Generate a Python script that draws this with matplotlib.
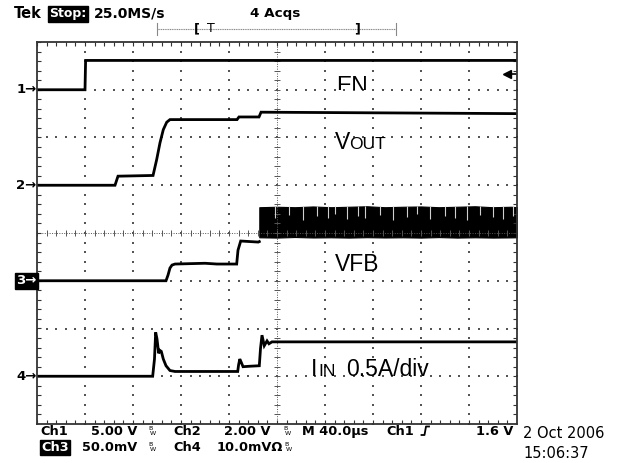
import matplotlib
matplotlib.use("Agg")
import matplotlib.pyplot as plt
import numpy as np
from matplotlib.lines import Line2D
from matplotlib.patches import Rectangle

W, H, DPI = 619, 463, 100

# horizontal: 40 us/div, 10 div; vertical: 8 div
T_DIV = 40.0

# Ch1  EN      5 V/div, ground marker 3 div above centre
ch1_t = [0, 40, 40.5, 400]
ch1_v = [0.0, 0.0, 3.07, 3.07]
CH1_SCALE, CH1_POS = 5.0, 3.0
CH1_TRIG = 1.6

# Ch2  VOUT    2 V/div, ground 1 div above centre
ch2_t = [0, 65, 67.5, 96.7, 99.75, 102.5, 105.25, 108.1, 110.8, 166.7, 168.3, 185, 186.7, 400]
ch2_v = [0.0, 0.0, 0.38, 0.41, 1.08, 1.78, 2.33, 2.64, 2.75, 2.75, 2.86, 2.86, 3.06, 3.00]
CH2_SCALE, CH2_POS = 2.0, 1.0

# Ch3  VFB     50 mV/div, ground 1 div below centre
ch3_t = [0, 107.5, 109.2, 110.8, 112.5, 115, 140, 150, 166.4, 167.5, 169.75, 184.4, 185.25]
ch3_v = [0, 0, 6.0, 13.3, 16.4, 17.5, 18.3, 17.5, 17.5, 32.0, 41.6, 40.5, 41.0]
# switching ripple envelope once the regulator runs (mV)
rip_t = [185.25, 200, 215, 230, 245, 260, 275, 290, 305, 320, 335, 350, 365, 380, 395, 400]
rip_hi = [77, 77.5, 77, 77.8, 77, 77.5, 78, 77, 77.5, 77.8, 77, 77.5, 78, 77, 77.5, 77]
rip_lo = [45.5, 45.2, 45.8, 45.3, 45.5, 45.2, 45.6, 45.3, 45.5, 45.2, 45.7, 45.2, 45.5, 45.2, 45.4, 45.5]
notch_t = [198.3, 210.3, 221.4, 233.1, 242.8, 248.3, 258.1, 267.8, 273.3, 285.8, 296.9,
           308.1, 316.4, 327.5, 340, 348.3, 358.1, 369.2, 380.3, 388.6, 396.9]
notch_v = [66, 69, 64, 68, 66, 70, 65, 68, 66, 69, 64, 67, 70, 65, 68, 66, 64, 69, 67, 65, 68]
CH3_SCALE, CH3_POS = 50.0, -1.0

# Ch4  IIN     0.5 A/div, ground 3 div below centre
ch4_t = [0, 96.4, 97.9, 98.9, 100, 101.4, 102.5, 103.6, 105.25, 107.5, 110.8, 115, 167.25,
         168, 169, 170.4, 171.7, 177.5, 185.25, 186.25, 187.5, 189.4, 191.7, 193.3, 195.8, 400]
ch4_a = [0.0, 0.0, 0.18, 0.46, 0.39, 0.24, 0.27, 0.26, 0.18, 0.11, 0.06, 0.05, 0.05,
         0.12, 0.18, 0.14, 0.10, 0.105, 0.11, 0.29, 0.43, 0.32, 0.37, 0.34, 0.36, 0.36]
CH4_SCALE, CH4_POS = 0.5, -3.0


def to_div(vals, scale, pos):
    return np.asarray(vals, dtype=float) / scale + pos


def px(x, y):
    """pixel position -> figure fraction"""
    return x / W, 1 - y / H


fig = plt.figure(figsize=(W / DPI, H / DPI), dpi=DPI)
fig.patch.set_facecolor("white")
ax = fig.add_axes([37 / W, 1 - 424 / H, 480 / W, 382 / H])
ax.set_xlim(0, 10 * T_DIV)
ax.set_ylim(-4, 4)
ax.set_xticks([])
ax.set_yticks([])
for s in ax.spines.values():
    s.set_color("#333333")
    s.set_linewidth(1.3)

# graticule dots
GRID = "#555555"
minor_y = np.arange(-4, 4.01, 0.2)
minor_x = np.arange(0, 400.1, T_DIV * 0.2)
for k in range(1, 10):
    if k == 5:
        continue
    ax.scatter(np.full_like(minor_y, k * T_DIV), minor_y, s=1.5, marker="s", c=GRID, lw=0)
for k in range(-3, 4):
    if k == 0:
        continue
    ax.scatter(minor_x, np.full_like(minor_x, k), s=1.5, marker="s", c=GRID, lw=0)

# centre cross with minor ticks
ax.axhline(0, color=GRID, lw=0.7, ls=(0, (1, 1.5)))
ax.axvline(200, color=GRID, lw=0.7, ls=(0, (1, 1.5)))
ax.vlines(minor_x, -0.06, 0.06, color=GRID, lw=0.7)
ax.hlines(minor_y, 200 - 2.4, 200 + 2.4, color=GRID, lw=0.7)

# border ticks
ax.vlines(minor_x, 4 - 0.09, 4, color="#333333", lw=0.8)
ax.vlines(minor_x, -4, -4 + 0.09, color="#333333", lw=0.8)
ax.hlines(minor_y, 0, 3.2, color="#333333", lw=0.8)
ax.hlines(minor_y, 400 - 3.2, 400, color="#333333", lw=0.8)

# traces
TR = dict(color="black", lw=2.0, solid_joinstyle="miter")
ax.plot(ch1_t, to_div(ch1_v, CH1_SCALE, CH1_POS), **TR)
ax.plot(ch2_t, to_div(ch2_v, CH2_SCALE, CH2_POS), **TR)
ax.plot(ch3_t, to_div(ch3_v, CH3_SCALE, CH3_POS), **TR)
ax.fill_between(rip_t, to_div(rip_lo, CH3_SCALE, CH3_POS), to_div(rip_hi, CH3_SCALE, CH3_POS),
                color="black", lw=0.8)
ax.vlines(notch_t, to_div(notch_v, CH3_SCALE, CH3_POS), to_div(rip_hi, CH3_SCALE, CH3_POS).max(),
          color="#d0d0d0", lw=0.8)
ax.plot(ch4_t, to_div(ch4_a, CH4_SCALE, CH4_POS), **TR)

# trigger level marker (Ch1)
trig_y = CH1_TRIG / CH1_SCALE + CH1_POS
ax.plot([392], [trig_y], marker="<", ms=6, color="black", clip_on=False)
ax.plot([392, 399], [trig_y, trig_y], color="black", lw=1.2)

# trace labels
LBL = "Liberation Sans"
en = ax.text(6.24 * T_DIV, 2.93, "EN", family=LBL, fontsize=16.5, va="baseline", clip_on=True)
en.set_clip_path(Rectangle((0, 2.985), 400, 1.0, transform=ax.transData))
ax.text(6.21 * T_DIV, 1.753, "V", family=LBL, fontsize=16.5, va="baseline")
ax.text(6.50 * T_DIV, 1.753, "OUT", family=LBL, fontsize=12.5, va="baseline")
ax.text(6.21 * T_DIV, -0.80, "VFB", family=LBL, fontsize=16.5, va="baseline")
ax.text(5.71 * T_DIV, -3.0, "I", family=LBL, fontsize=16.5, va="baseline")
ax.text(5.86 * T_DIV, -3.0, "IN", family=LBL, fontsize=12.5, va="baseline")
ax.text(6.45 * T_DIV, -3.0, "0.5A/div", family=LBL, fontsize=16.5, va="baseline")

# channel ground markers
SC = "DejaVu Sans"
for n, pos in [(1, CH1_POS), (2, CH2_POS), (3, CH3_POS), (4, CH4_POS)]:
    y = 233 - pos * 47.75
    kw = dict(family=SC, fontsize=9.5, ha="right", va="center", weight="bold")
    if n == 3:
        fig.text(*px(36.5, y), "3\u2192", color="white",
                 bbox=dict(boxstyle="square,pad=0.1", fc="black", ec="black"), **kw)
    else:
        fig.text(*px(36.5, y), f"{n}\u2192", color="black", **kw)

# header
HB = dict(family=SC, va="center", weight="bold")
fig.text(*px(14, 13.5), "Tek", fontsize=10.5, **HB)
fig.text(*px(49, 13.5), "Stop:", fontsize=9, color="white",
         bbox=dict(boxstyle="square,pad=0.12", fc="black", ec="black"), **HB)
fig.text(*px(94, 13.5), "25.0MS/s", fontsize=10, **HB)
fig.text(*px(250, 13.5), "4 Acqs", fontsize=9.7, **HB)
fig.add_artist(Line2D([156.7 / W, 395.7 / W], [1 - 29 / H] * 2, color="#888888", lw=0.8,
                      ls=(0, (1, 0.6))))
for xx in (156.7, 395.7):
    fig.add_artist(Line2D([xx / W] * 2, [1 - 23 / H, 1 - 35 / H], color="#888888", lw=0.8))
fig.text(*px(197, 29), "[", family=SC, fontsize=9, va="center", ha="center", weight="bold")
fig.text(*px(211, 28), "T", family=SC, fontsize=9, va="center", ha="center")
fig.text(*px(357, 29), "]", family=SC, fontsize=9, va="center", ha="center", weight="bold")

# footer readouts
row1, row2 = 431.5, 447.5
FB = dict(family=SC, fontsize=9.3, va="center", weight="bold")
fig.text(*px(40, row1), "Ch1", **FB)
fig.text(*px(137, row1), "5.00 V", ha="right", **FB)
fig.text(*px(173, row1), "Ch2", **FB)
fig.text(*px(270, row1), "2.00 V", ha="right", **FB)
fig.text(*px(302, row1), "M 40.0\u00b5s", **FB)
fig.text(*px(386, row1), "Ch1", **FB)
fig.text(*px(513, row1), "1.6 V", ha="right", **FB)
fig.add_artist(Line2D(np.array([421.5, 424.5, 426, 429]) / W,
                      1 - np.array([435, 435, 426.5, 426.5]) / H, color="black", lw=1.3))
fig.text(*px(41, row2), "Ch3", color="white",
         bbox=dict(boxstyle="square,pad=0.1", fc="black", ec="black"), **FB)
fig.text(*px(137, row2), "50.0mV", ha="right", **FB)
fig.text(*px(173, row2), "Ch4", **FB)
fig.text(*px(283, row2), "10.0mV\u03a9", ha="right", **FB)
for bx, by in [(148, row1), (283, row1), (148, row2), (284, row2)]:
    fig.text(*px(bx, by - 2.5), "B", family=SC, fontsize=4.5, va="center")
    fig.text(*px(bx + 2, by + 2), "W", family=SC, fontsize=4.5, va="center")

fig.text(*px(523, 433), "2 Oct 2006", family=SC, fontsize=10.5, va="center")
fig.text(*px(523, 453), "15:06:37", family=SC, fontsize=10.5, va="center")

fig.savefig("out.png", dpi=DPI)
